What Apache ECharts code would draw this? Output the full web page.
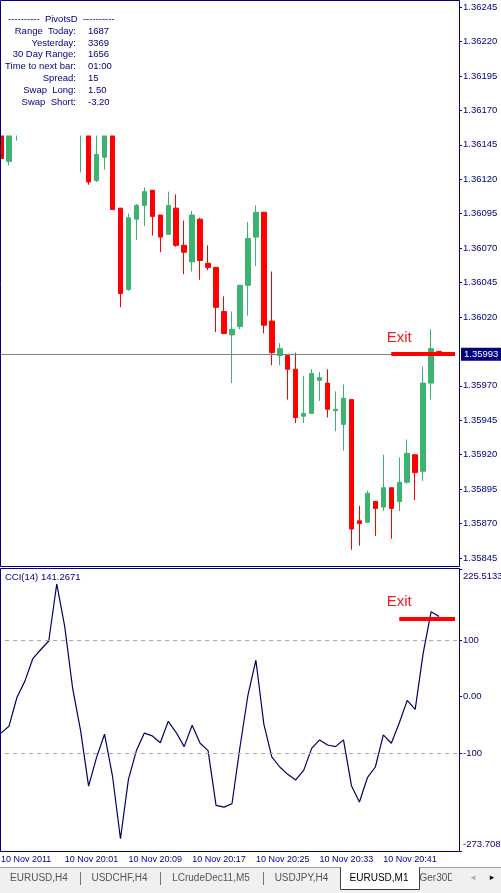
<!DOCTYPE html>
<html>
<head>
<meta charset="utf-8">
<script src="https://cdn.jsdelivr.net/npm/echarts@6/dist/echarts.min.js"></script>
<style>
    html, body { margin: 0; padding: 0; background: #fff; }
    #chart { width: 501px; height: 893px; }
</style>
</head>
<body>
<div id="chart"></div>
<script>
// EURUSD,M1 bars, 10 Nov 2011
const times = ['19:53', '19:54', '19:55', '19:56', '19:57', '19:58', '19:59', '20:00', '20:01', '20:02',
    '20:03', '20:04', '20:05', '20:06', '20:07', '20:08', '20:09', '20:10', '20:11', '20:12',
    '20:13', '20:14', '20:15', '20:16', '20:17', '20:18', '20:19', '20:20', '20:21', '20:22',
    '20:23', '20:24', '20:25', '20:26', '20:27', '20:28', '20:29', '20:30', '20:31', '20:32',
    '20:33', '20:34', '20:35', '20:36', '20:37', '20:38', '20:39', '20:40', '20:41', '20:42',
    '20:43', '20:44', '20:45', '20:46', '20:47', '20:48', '20:49', '20:50']

const opens = [1.36170, 1.36133, 1.36165, 1.36190, 1.36200, 1.36210, 1.36205, 1.36220, 1.36232, 1.36205,
    1.36158, 1.36175, 1.36119, 1.36136, 1.36165, 1.36099, 1.36040, 1.36091, 1.36101, 1.36112,
    1.36094, 1.36080, 1.36099, 1.36072, 1.36060, 1.36091, 1.36059, 1.36056, 1.36024, 1.36007,
    1.36013, 1.36043, 1.36078, 1.36096, 1.36017, 1.35992, 1.35992, 1.35982, 1.35948, 1.35950,
    1.35974, 1.35972, 1.35952, 1.35942, 1.35960, 1.35872, 1.35871, 1.35886, 1.35882, 1.35896,
    1.35886, 1.35900, 1.35920, 1.35908, 1.35972, 1.35995]
const highs = [1.36178, 1.36175, 1.36198, 1.36205, 1.36215, 1.36222, 1.36225, 1.36240, 1.36236, 1.36210,
    1.36180, 1.36178, 1.36160, 1.36170, 1.36170, 1.36099, 1.36095, 1.36102, 1.36114, 1.36112,
    1.36094, 1.36111, 1.36109, 1.36090, 1.36097, 1.36092, 1.36072, 1.36056, 1.36035, 1.36024,
    1.36043, 1.36089, 1.36101, 1.36096, 1.36053, 1.36001, 1.35992, 1.35994, 1.35977, 1.35982,
    1.35980, 1.35982, 1.35966, 1.35971, 1.35960, 1.35883, 1.35894, 1.35886, 1.35920, 1.35896,
    1.35918, 1.35931, 1.35920, 1.35984, 1.36011, 1.35995]
const lows = [1.36133, 1.36130, 1.36148, 1.36180, 1.36190, 1.36198, 1.36200, 1.36212, 1.36200, 1.36170,
    1.36125, 1.36116, 1.36118, 1.36127, 1.36098, 1.36027, 1.36039, 1.36076, 1.36086, 1.36079,
    1.36067, 1.36080, 1.36071, 1.36051, 1.36053, 1.36047, 1.36054, 1.36009, 1.36008, 1.35972,
    1.36011, 1.36021, 1.36057, 1.36008, 1.35985, 1.35985, 1.35960, 1.35943, 1.35943, 1.35950,
    1.35959, 1.35947, 1.35937, 1.35923, 1.35851, 1.35854, 1.35871, 1.35861, 1.35879, 1.35859,
    1.35879, 1.35899, 1.35887, 1.35901, 1.35960, 1.35993]
const closes = [1.36135, 1.36168, 1.36190, 1.36200, 1.36210, 1.36205, 1.36220, 1.36232, 1.36205, 1.36175,
    1.36175, 1.36118, 1.36138, 1.36165, 1.36098, 1.36037, 1.36092, 1.36101, 1.36111, 1.36093,
    1.36078, 1.36101, 1.36072, 1.36067, 1.36094, 1.36061, 1.36056, 1.36027, 1.36008, 1.36011,
    1.36043, 1.36077, 1.36096, 1.36014, 1.35994, 1.35997, 1.35982, 1.35947, 1.35950, 1.35979,
    1.35976, 1.35953, 1.35953, 1.35961, 1.35866, 1.35870, 1.35892, 1.35881, 1.35896, 1.35881,
    1.35900, 1.35921, 1.35907, 1.35972, 1.35997, 1.35993]

// CCI(14)
const cci = [-65, -53, -2, 27, 67, 83, 98, 199, 124, 14,
    -61, -159, -108, -67, -141, -252, -147, -96, -65, -70,
    -82, -44, -64, -89, -51, -83, -96, -193, -196, -190,
    -90, 2, 64, -49, -107, -125, -138, -148, -131, -92,
    -77, -86, -89, -77, -158, -187, -144, -125, -68, -83,
    -47, -7, -23, 76, 150, 141.2671]

const priceTicks = ['1.36245', '1.36220', '1.36195', '1.36170', '1.36145', '1.36120', '1.36095', '1.36070',
    '1.36045', '1.36020', '1.35970', '1.35945', '1.35920', '1.35895', '1.35870', '1.35845']
const cciTicks = [225.5133, 100, 0, -100, -273.708]
const cciTickLabels = ['225.5133', '100', '0.00', '-100', '-273.708']

const bid = 1.35993
const exitPrice = 1.35993
const exitCci = 137

const infoLabels = ['Range  Today:', 'Yesterday:', '30 Day Range:', 'Time to next bar:', 'Spread:', 'Swap  Long:', 'Swap  Short:']
const infoValues = ['1687', '3369', '1656', '01:00', '15', '1.50', '-3.20']

const tabs = ['EURUSD,H4', 'USDCHF,H4', 'LCrudeDec11,M5', 'USDJPY,H4', 'EURUSD,M1', 'Ger30D']

const FONT = '"Liberation Sans", Arial, sans-serif'
const NAVY = '#000080'
const BULL = '#3CB371'
const BEAR = '#FF0000'

const candles = opens.map((o, i) => [o, closes[i], lows[i], highs[i]])
// time labels every 8 bars, only over the bars that exist
const showEvery8 = (i) => i % 8 === 0 && i < cci.length

// pivots info box, cci title, frames, tab strip
let graphics = [
    { type: 'rect', z: 50, shape: { x: 1, y: 1, width: 117, height: 134.5 }, style: { fill: '#fff' } },
    {
        type: 'text', z: 60, x: 8, y: 19,
        style: { text: '----------  PivotsD  ----------', fill: NAVY, fontSize: 9.5, fontFamily: FONT, verticalAlign: 'middle' },
    },
    {
        type: 'text', z: 60, x: 5, y: 577,
        style: { text: 'CCI(14) 141.2671', fill: NAVY, fontSize: 9.5, fontFamily: FONT, verticalAlign: 'middle' },
    },
    { type: 'rect', z: 70, shape: { x: 0.5, y: 0.5, width: 459, height: 566 }, style: { fill: 'none', stroke: NAVY, lineWidth: 1 } },
    { type: 'rect', z: 70, shape: { x: 0.5, y: 568.5, width: 459, height: 283 }, style: { fill: 'none', stroke: NAVY, lineWidth: 1 } },
    { type: 'rect', z: 40, shape: { x: 0, y: 867, width: 501, height: 26 }, style: { fill: '#F0F0F0' } },
    { type: 'line', z: 41, shape: { x1: 0, y1: 867.5, x2: 501, y2: 867.5 }, style: { stroke: '#A0A0A0', lineWidth: 1 } },
    { type: 'rect', z: 42, shape: { x: 340.5, y: 867.5, width: 79, height: 22 }, style: { fill: '#fff', stroke: '#404040', lineWidth: 1 } },
    { type: 'line', z: 43, shape: { x1: 341, y1: 867.5, x2: 419, y2: 867.5 }, style: { stroke: '#fff', lineWidth: 1 } },
]
infoLabels.forEach((t, i) => {
    graphics.push({
        type: 'text', z: 60, x: 76, y: 31 + 11.9 * i,
        style: { text: t, fill: NAVY, fontSize: 9.5, fontFamily: FONT, align: 'right', verticalAlign: 'middle' },
    })
    graphics.push({
        type: 'text', z: 60, x: 88, y: 31 + 11.9 * i,
        style: { text: infoValues[i], fill: NAVY, fontSize: 9.5, fontFamily: FONT, align: 'left', verticalAlign: 'middle' },
    })
})
const tabX = [39, 119.5, 211, 301.5, 379, 437]
tabs.forEach((t, i) => {
    graphics.push({
        type: 'text', z: 44, x: tabX[i], y: 878,
        style: { text: t, fill: i === 4 ? '#000' : '#555', fontSize: 10, fontFamily: FONT, align: 'center', verticalAlign: 'middle' },
    })
})
;[80, 160, 263].forEach((x) => {
    graphics.push({ type: 'line', z: 44, shape: { x1: x + 0.5, y1: 872, x2: x + 0.5, y2: 885 }, style: { stroke: '#777', lineWidth: 1 } })
})
graphics.push({ type: 'rect', z: 45, shape: { x: 452, y: 868, width: 49, height: 25 }, style: { fill: '#F0F0F0' } })
graphics.push({ type: 'text', z: 46, x: 473, y: 878, style: { text: '◂', fill: '#aaa', fontSize: 9, fontFamily: 'DejaVu Sans', align: 'center', verticalAlign: 'middle' } })
graphics.push({ type: 'text', z: 46, x: 492, y: 878, style: { text: '▸', fill: '#000', fontSize: 9, fontFamily: 'DejaVu Sans', align: 'center', verticalAlign: 'middle' } })

const labelStyle = { color: NAVY, fontSize: 9.5, fontFamily: FONT }

let option = {
    animation: false,
    backgroundColor: '#fff',
    graphic: graphics,
    // no auto-shrinking: labels may run to the window edge like in the terminal
    grid: [
        { left: -3, width: 462, top: 1, height: 565, outerBoundsMode: 'none', containLabel: false },
        { left: -3, width: 462, top: 569, height: 282, outerBoundsMode: 'none', containLabel: false },
    ],
    xAxis: [
        { type: 'category', gridIndex: 0, data: times, boundaryGap: true, show: false, axisLine: { onZero: false } },
        {
            type: 'category', gridIndex: 1, data: times, boundaryGap: true,
            axisLine: { onZero: false, lineStyle: { color: NAVY } },
            axisTick: { alignWithLabel: true, interval: showEvery8, length: 4, lineStyle: { color: NAVY } },
            axisLabel: {
                interval: showEvery8, align: 'left', margin: 4,
                color: NAVY, fontSize: 9, fontFamily: FONT,
                formatter: (v, i) => (i === 0 ? '10 Nov 2011' : '10 Nov ' + v),
            },
            splitLine: { show: false },
        },
    ],
    yAxis: [
        {
            type: 'value', gridIndex: 0, position: 'right',
            min: 1.358392, max: 1.362494,
            axisLine: { show: true, onZero: false, lineStyle: { color: NAVY } },
            axisTick: { show: true, length: 3, customValues: priceTicks.map(Number), lineStyle: { color: NAVY } },
            axisLabel: { ...labelStyle, margin: 4, customValues: priceTicks.map(Number), formatter: (v) => v.toFixed(5) },
            splitLine: { show: false },
        },
        {
            type: 'value', gridIndex: 1, position: 'right',
            min: -273.708, max: 225.5133,
            axisLine: { show: true, onZero: false, lineStyle: { color: NAVY } },
            axisTick: { show: true, length: 3, customValues: cciTicks, lineStyle: { color: NAVY } },
            axisLabel: {
                ...labelStyle, margin: 4, customValues: cciTicks,
                formatter: (v) => {
                    const i = cciTicks.indexOf(v)
                    const s = i >= 0 ? cciTickLabels[i] : String(v)
                    if (i === 0) return '{t|' + s + '}'
                    if (i === cciTicks.length - 1) return '{b|' + s + '}'
                    return s
                },
                rich: {
                    t: { ...labelStyle, padding: [14, 0, 0, 0] },
                    b: { ...labelStyle, padding: [0, 0, 14, 0] },
                },
            },
            splitLine: { show: false },
        },
    ],
    series: [
        {
            name: 'EURUSD',
            type: 'candlestick',
            xAxisIndex: 0,
            yAxisIndex: 0,
            barWidth: 5,
            data: candles,
            itemStyle: { color: BULL, color0: BEAR, borderColor: BULL, borderColor0: BEAR, borderWidth: 1 },
            markLine: {
                silent: true,
                symbol: ['none', 'none'],
                animation: false,
                data: [
                    // bid line across the whole panel
                    [
                        {
                            coord: [times[0], bid],
                            lineStyle: { color: '#808080', width: 1, type: 'solid' },
                            label: {
                                show: true, position: 'end', distance: 6, formatter: bid.toFixed(5),
                                backgroundColor: NAVY, color: '#fff', padding: [2, 3, 1, 3],
                                fontSize: 9.5, fontFamily: FONT,
                            },
                        },
                        { coord: [times[57], bid] },
                    ],
                    [
                        { coord: [times[49], exitPrice], lineStyle: { color: '#FF0000', width: 4, type: 'solid' }, label: { show: false } },
                        { coord: [times[57], exitPrice] },
                    ],
                ],
            },
            markPoint: {
                silent: true,
                symbol: 'circle',
                symbolSize: 1,
                itemStyle: { color: 'rgba(0,0,0,0)' },
                data: [{ coord: [times[50], 1.36005] }],
                label: { show: true, position: 'inside', formatter: 'Exit', color: '#EE1C25', fontSize: 15, fontFamily: FONT },
            },
        },
        {
            name: 'CCI(14)',
            type: 'line',
            xAxisIndex: 1,
            yAxisIndex: 1,
            data: cci,
            showSymbol: false,
            lineStyle: { color: '#000066', width: 1.2 },
            markLine: {
                silent: true,
                symbol: ['none', 'none'],
                animation: false,
                label: { show: false },
                data: [
                    { yAxis: 100, lineStyle: { color: '#A8A8A8', width: 1, type: [4, 4] } },
                    { yAxis: -100, lineStyle: { color: '#A8A8A8', width: 1, type: [4, 4] } },
                    [
                        { coord: [times[50], exitCci], lineStyle: { color: '#FF0000', width: 4, type: 'solid' } },
                        { coord: [times[57], exitCci] },
                    ],
                ],
            },
            markPoint: {
                silent: true,
                symbol: 'circle',
                symbolSize: 1,
                itemStyle: { color: 'rgba(0,0,0,0)' },
                data: [{ coord: [times[50], 167.6] }],
                label: { show: true, position: 'inside', formatter: 'Exit', color: '#EE1C25', fontSize: 15, fontFamily: FONT },
            },
        },
    ],
}

let myChart = echarts.init(document.getElementById('chart'))
myChart.setOption(option)
window.addEventListener('resize', myChart.resize)
</script>
</body>
</html>
